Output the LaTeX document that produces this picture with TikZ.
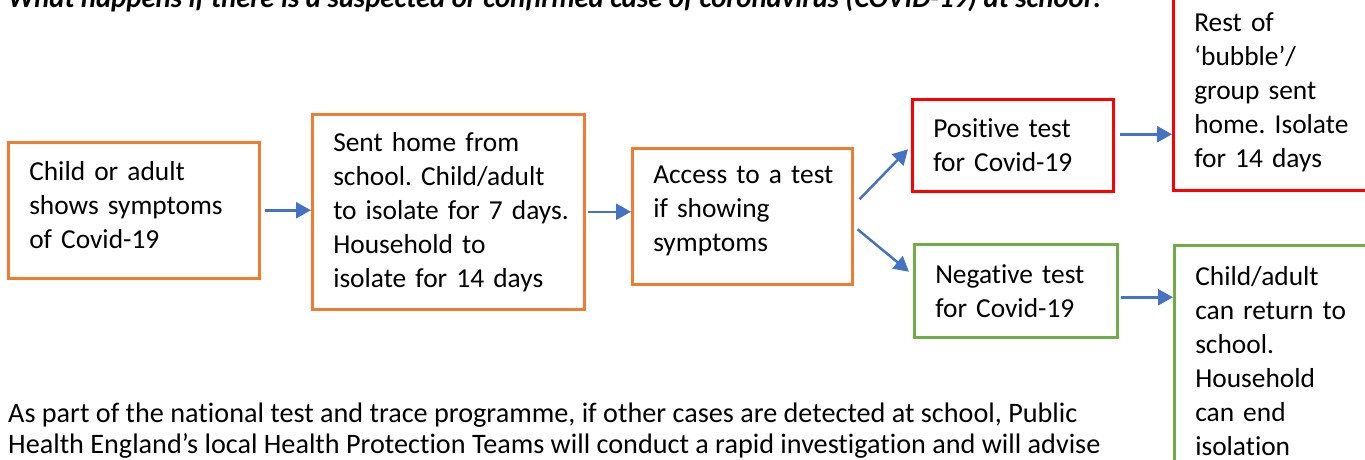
\documentclass[tikz,border=0pt]{standalone}
\usepackage{fontspec}
\setmainfont{Carlito}[Ligatures=NoCommon]
\usetikzlibrary{arrows.meta}
\definecolor{borange}{HTML}{ED7D31}
\definecolor{bred}{HTML}{FF0000}
\definecolor{bgreen}{HTML}{70AD47}
\definecolor{barrow}{HTML}{4472C4}
\newcommand\oneline[1]{\mbox{#1}}
\frenchspacing
\begin{document}
\begin{tikzpicture}[x=1pt,y=-1pt,
  box/.style={draw=#1, line width=2.5pt, rectangle, inner xsep=21pt, inner ysep=0pt,
    align=left, font=\fontsize{27.4}{34}\selectfont, anchor=north west},
  flow/.style={draw=barrow, line width=2.5pt, -{Triangle[length=15pt,width=16pt]}},
  para/.style={anchor=base west, inner sep=0pt, font=\fontsize{28.2}{34}\selectfont},
]
\useasboundingbox (0,0) rectangle (1365,459);
\clip (0,0) rectangle (1365,459);

\node[anchor=base west, inner sep=0pt, font=\fontsize{28.7}{34}\selectfont\bfseries\itshape] (title) at (8,7)
  {What happens if there is a suspected or confirmed case of coronavirus (COVID-19) at school?};

\node[box=borange, minimum width=251pt, minimum height=136pt, text width=209pt] (b1) at (7,141)
  {\oneline{Child or adult}\\\oneline{shows symptoms}\\\oneline{of Covid-19}\rule[-10pt]{0pt}{0pt}};
\node[box=borange, minimum width=272pt, minimum height=195pt, text width=230pt] (b2) at (311,113)
  {\oneline{Sent home from}\\\oneline{school. Child/adult}\\\oneline{to isolate for 7 days.}\\\oneline{Household to}\\\oneline{isolate for 14 days}};
\node[box=borange, minimum width=220pt, minimum height=136pt, text width=178pt] (b3) at (631,147)
  {\oneline{Access to a test}\\\oneline{if showing}\\\oneline{symptoms}\rule[-14.5pt]{0pt}{0pt}};
\node[box=bred, minimum width=201pt, minimum height=92pt, text width=159pt] (b4) at (911,98)
  {\oneline{Positive test}\\\oneline{for Covid-19}};
\node[box=bred, minimum width=220pt, minimum height=196pt, text width=178pt] (b5) at (1172,-7)
  {\oneline{Rest of}\\\oneline{‘bubble’/}\\\oneline{group sent}\\\oneline{home. Isolate}\\\oneline{for 14 days}};
\node[box=bgreen, minimum width=203pt, minimum height=93pt, text width=161pt] (b6) at (913,243)
  {\oneline{Negative test}\\\oneline{for Covid-19}};
\node[box=bgreen, minimum width=220pt, minimum height=232pt, text width=178pt] (b7) at (1173,244)
  {\oneline{Child/adult}\\\oneline{can return to}\\\oneline{school.}\\\oneline{Household}\\\oneline{can end}\\\oneline{isolation}};

\draw[flow, shorten <=4pt] (b1.east) -- (b1.east -| b2.west);
\draw[flow, shorten <=2pt] (b2.east) -- (b2.east -| b3.west);
\draw[flow] ([shift={(6,-17)}]b3.east) -- ([shift={(-3,4)}]b4.west);
\draw[flow] ([shift={(4,13)}]b3.east) -- ([shift={(-4,-19)}]b6.west);
\path ([shift={(5,-11)}]b4.east) coordinate (a5s);
\draw[flow] (a5s) -- (a5s -| b5.west);
\path ([shift={(2,6.5)}]b6.east) coordinate (a6s);
\draw[flow] (a6s) -- (a6s -| b7.west);

\node[para] (p1) at (8,422)
  {As part of the national test and trace programme, if other cases are detected at school, Public};
\node[para] (p2) at (8,453)
  {Health England’s local Health Protection Teams will conduct a rapid investigation and will advise};
\end{tikzpicture}
\end{document}
